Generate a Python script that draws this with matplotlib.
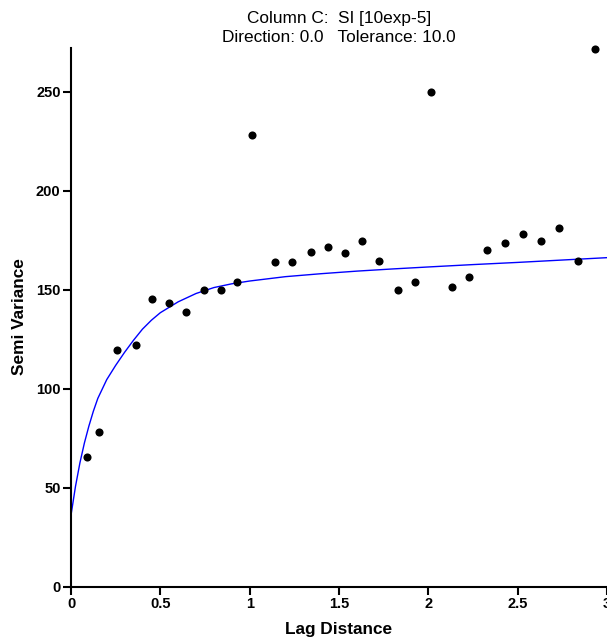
import matplotlib
matplotlib.use("Agg")
import matplotlib.pyplot as plt

plt.rcParams['font.family'] = ['Liberation Sans', 'DejaVu Sans']

# Experimental semivariogram (lag distance, semivariance)
lag = [0.09, 0.158, 0.26, 0.364, 0.455, 0.546, 0.645, 0.747, 0.837, 0.93,
       1.013, 1.14, 1.239, 1.343, 1.436, 1.534, 1.629, 1.726, 1.829, 1.927,
       2.013, 2.133, 2.228, 2.329, 2.43, 2.53, 2.632, 2.734, 2.839, 2.934]
semivar = [65.2, 77.9, 119.3, 122.2, 145.4, 143.3, 138.8, 149.7, 149.7, 153.9,
           228.0, 163.8, 163.8, 169.2, 171.3, 168.7, 174.7, 164.6, 149.7, 153.9,
           249.9, 151.5, 156.4, 170.2, 173.7, 177.8, 174.4, 181.2, 164.2, 271.5]

# Fitted model curve
model_lag = [0.0, 0.025, 0.05, 0.075, 0.1, 0.125, 0.15, 0.2, 0.25, 0.3, 0.35,
             0.4, 0.45, 0.5, 0.6, 0.7, 0.8, 0.9, 1.0, 1.2, 1.4, 1.6, 1.8, 2.0,
             2.25, 2.5, 2.75, 3.0]
model_val = [36.0, 50.5, 62.5, 72.5, 81.0, 88.5, 95.0, 104.5, 111.7, 118.3, 124.4,
             130.0, 134.5, 138.3, 143.8, 148.0, 151.0, 152.9, 154.3, 156.5, 158.0,
             159.3, 160.4, 161.4, 162.6, 163.7, 164.9, 166.1]

x_ticks = [0, 0.5, 1, 1.5, 2, 2.5, 3]
x_tick_labels = ["0", "0.5", "1", "1.5", "2", "2.5", "3"]
y_ticks = [0, 50, 100, 150, 200, 250]

W, H = 607, 642
fig = plt.figure(figsize=(W / 100, H / 100), dpi=100)
ax = fig.add_axes([71 / W, 55.5 / H, 536 / W, 538.5 / H])

ax.plot(model_lag, model_val, color="#0000ff", lw=1.0, zorder=2, clip_on=False)
ax.scatter(lag, semivar, s=34, color="black", zorder=3, clip_on=False, linewidths=0)

ax.set_xlim(0, 3)
ax.set_ylim(0, 272)
ax.set_xticks(x_ticks)
ax.set_xticklabels(x_tick_labels)
ax.set_yticks(y_ticks)

for side in ("top", "right"):
    ax.spines[side].set_visible(False)
for side in ("left", "bottom"):
    ax.spines[side].set_linewidth(1.5)
    ax.spines[side].set_color("black")

ax.tick_params(axis="both", direction="out", length=6, width=1.5, colors="black",
               labelsize=10.5, pad=1.5)
for lbl in ax.get_xticklabels() + ax.get_yticklabels():
    lbl.set_fontweight("bold")

# Axis titles
fig.text(339 / W, 1 - 634 / H, "Lag Distance", ha="center", va="baseline",
         fontsize=12.4, fontweight="bold")
fig.text(20 / W, 1 - 317 / H, "Semi Variance", ha="center", va="center",
         rotation=90, fontsize=12.4, fontweight="bold")

# Chart heading
fig.text(339 / W, 1 - 22.7 / H, "Column C:  SI [10exp-5]", ha="center",
         va="baseline", fontsize=12.4)
fig.text(339 / W, 1 - 41.7 / H, "Direction: 0.0   Tolerance: 10.0", ha="center",
         va="baseline", fontsize=12.4)

fig.savefig("out.png", dpi=100)
